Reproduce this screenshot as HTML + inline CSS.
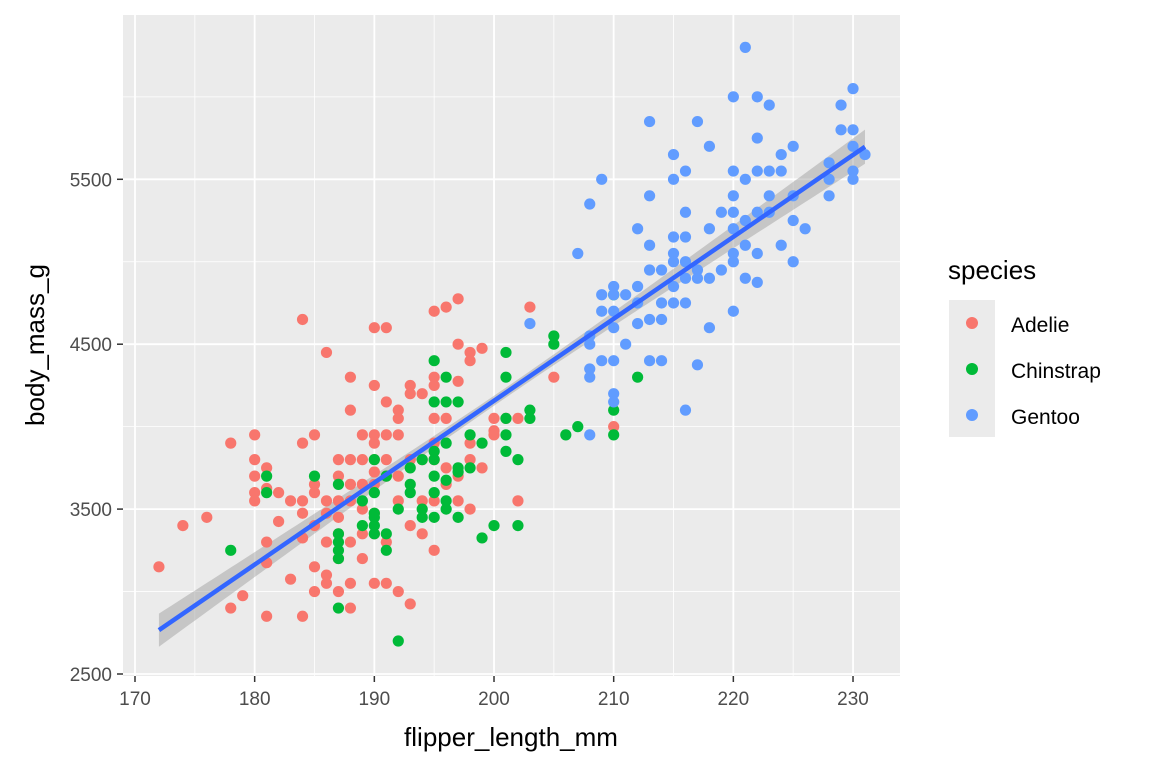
<!DOCTYPE html>
<html><head><meta charset="utf-8"><style>
html,body{margin:0;padding:0;background:#fff;}
svg{display:block;font-family:"Liberation Sans",Arial,sans-serif;}
</style></head><body>
<svg id="chart" width="1152" height="768" viewBox="0 0 1152 768" xmlns="http://www.w3.org/2000/svg">
<rect x="0" y="0" width="1152" height="768" fill="#fff"/>
<rect x="123" y="15" width="777" height="661" fill="#ebebeb"/>
<g id="grid"></g>
<g id="band"></g>
<g id="pts"></g>
<g id="fit"></g>
<g id="axes"></g>
<text x="511" y="746" font-size="26" text-anchor="middle" fill="#000">flipper_length_mm</text>
<text transform="translate(44,345) rotate(-90)" font-size="26" text-anchor="middle" fill="#000">body_mass_g</text>
<g>
<text x="948" y="279" font-size="26" fill="#000">species</text>
<rect x="949" y="300" width="46" height="137" fill="#ebebeb"/>
<circle cx="972" cy="323" r="6" fill="#F8766D"/>
<circle cx="972" cy="369" r="6" fill="#00BA38"/>
<circle cx="972" cy="415" r="6" fill="#619CFF"/>
<text x="1011" y="332" font-size="21" fill="#000">Adelie</text>
<text x="1011" y="378" font-size="21" fill="#000">Chinstrap</text>
<text x="1011" y="424" font-size="21" fill="#000">Gentoo</text>
</g>
</svg>
<script>
const xTicks=[170,180,190,200,210,220,230];
const yTicks=[2500,3500,4500,5500];
const xMinor=[175,185,195,205,215,225];
const yMinor=[3000,4000,5000,6000];
const adelie=[[172,3150],[174,3400],[176,3450],[178,3900],[178,2900],[179,2975],
[180,3950],[180,3800],[180,3700],[180,3600],[180,3550],
[181,3750],[181,3625],[181,3300],[181,3175],[181,2850],
[182,3600],[182,3425],[183,3550],[183,3075],
[184,4650],[184,3900],[184,3550],[184,3475],[184,3325],[184,2850],
[185,3950],[185,3650],[185,3600],[185,3400],[185,3150],[185,3000],
[186,4450],[186,3550],[186,3475],[186,3300],[186,3100],[186,3050],
[187,3800],[187,3700],[187,3550],[187,3450],[187,3350],[187,3200],[187,3000],
[188,4300],[188,4100],[188,3800],[188,3650],[188,3550],[188,3300],[188,3050],[188,2900],
[189,3950],[189,3800],[189,3650],[189,3500],[189,3350],[189,3200],
[190,4600],[190,4250],[190,3950],[190,3900],[190,3800],[190,3725],[190,3650],[190,3475],[190,3350],[190,3050],
[191,4600],[191,4150],[191,3950],[191,3800],[191,3700],[191,3300],[191,3050],
[192,4100],[192,4050],[192,3950],[192,3700],[192,3550],[192,3000],
[193,4250],[193,4200],[193,3800],[193,3400],[193,2925],
[194,4200],[194,3800],[194,3550],[194,3350],
[195,4700],[195,4300],[195,4250],[195,4050],[195,3900],[195,3800],[195,3550],[195,3250],
[196,4725],[196,4050],[196,3750],[196,3650],
[197,4775],[197,4500],[197,4275],[197,3700],[197,3550],
[198,4450],[198,4400],[198,3900],[198,3800],[198,3500],
[199,4475],[199,3750],[200,4050],[200,3975],[200,3950],[201,4050],
[202,4050],[202,3550],[203,4725],[205,4300],[210,4000]];
const chinstrap=[[178,3250],[181,3700],[181,3600],[185,3700],
[187,3650],[187,3350],[187,3300],[187,3250],[187,3200],[187,2900],
[189,3550],[189,3400],
[190,3800],[190,3600],[190,3475],[190,3450],[190,3400],[190,3350],
[191,3700],[191,3350],[191,3250],[192,3500],[192,2700],
[193,3750],[193,3650],[193,3600],[194,3800],[194,3500],[194,3450],
[195,4400],[195,4150],[195,3850],[195,3800],[195,3700],[195,3600],[195,3450],
[196,4300],[196,4150],[196,3900],[196,3675],[196,3550],[196,3500],
[197,4150],[197,3750],[197,3725],[197,3450],[198,3950],[198,3750],
[199,3900],[199,3325],[200,3400],
[201,4450],[201,4300],[201,4050],[201,3950],[201,3850],[202,3800],[202,3400],
[203,4100],[203,4050],[205,4550],[205,4500],[206,3950],[207,4000],
[210,4800],[210,4100],[210,3950],[212,4300]];
const gentoo=[[203,4625],[207,5050],
[208,5350],[208,4350],[208,4300],[208,4550],[208,4500],[208,3950],
[209,5500],[209,4800],[209,4700],[209,4400],
[210,4850],[210,4800],[210,4700],[210,4600],[210,4200],[210,4150],[210,4400],
[211,4800],[211,4500],[212,5200],[212,4850],[212,4750],[212,4625],
[213,5850],[213,5400],[213,5100],[213,4950],[213,4650],[213,4400],
[214,4950],[214,4750],[214,4650],[214,4400],
[215,5150],[215,5050],[215,5000],[215,4850],[215,4750],[215,5650],[215,5500],
[216,5550],[216,5300],[216,5150],[216,5000],[216,4900],[216,4750],[216,4100],
[217,5850],[217,4950],[217,4900],[217,4375],
[218,5700],[218,5200],[218,4900],[218,4600],[219,5300],[219,4950],
[220,6000],[220,5550],[220,5400],[220,5300],[220,5200],[220,5050],[220,5000],[220,4700],
[221,6300],[221,5500],[221,5250],[221,5100],[221,4900],
[222,6000],[222,5750],[222,5550],[222,5300],[222,5050],[222,4875],
[223,5950],[223,5550],[223,5400],[223,5300],[224,5650],[224,5550],[224,5100],
[225,5700],[225,5400],[225,5250],[225,5000],[226,5200],
[228,5600],[228,5500],[228,5400],[229,5950],[229,5800],
[230,6050],[230,5800],[230,5700],[230,5550],[230,5500],[231,5650]];
const fitCoef=[-5780.8,49.69];
const fitRange=[172,231];

const NS="http://www.w3.org/2000/svg";
const X=v=>135+(v-170)*11.967;
const Y=v=>674-(v-2500)*0.1649;
function mk(tag,parent,attrs){const e=document.createElementNS(NS,tag);for(const k in attrs)e.setAttribute(k,attrs[k]);document.getElementById(parent).appendChild(e);return e;}
xMinor.forEach(v=>{const e=mk('line','grid',{x1:X(v),x2:X(v),y1:15,y2:676,stroke:'#fff','stroke-width':0.8});

});
yMinor.forEach(v=>{const e=mk('line','grid',{x1:123,x2:900,y1:Y(v),y2:Y(v),stroke:'#fff','stroke-width':0.8});

});
xTicks.forEach(v=>{const e=mk('line','grid',{x1:X(v),x2:X(v),y1:15,y2:676,stroke:'#fff','stroke-width':1.8});


const t=mk('line','axes',{x1:X(v),x2:X(v),y1:676,y2:682,stroke:'#333','stroke-width':1.5});


const l=mk('text','axes',{x:X(v),y:705,'font-size':19,'text-anchor':'middle',fill:'#4d4d4d'});l.textContent=v;

});
yTicks.forEach(v=>{const e=mk('line','grid',{x1:123,x2:900,y1:Y(v),y2:Y(v),stroke:'#fff','stroke-width':1.8});


const t=mk('line','axes',{x1:117,x2:123,y1:Y(v),y2:Y(v),stroke:'#333','stroke-width':1.5});


const l=mk('text','axes',{x:112,y:Y(v)+7,'font-size':19,'text-anchor':'end',fill:'#4d4d4d'});l.textContent=v;

});
// band
const f=x=>fitCoef[0]+fitCoef[1]*x;
const hw=x=>Math.sqrt(30*30+Math.pow(3.3*(x-201),2));
let up=[],lo=[];
for(let x=fitRange[0];x<=fitRange[1]+0.001;x+=0.5){up.push(X(x)+','+Y(f(x)+hw(x)));lo.unshift(X(x)+','+Y(f(x)-hw(x)));}
const b=mk('polygon','band',{points:up.concat(lo).join(' '),fill:'#999','fill-opacity':0.45});


function draw(arr,col,name){arr.forEach(p=>{const c=mk('circle','pts',{cx:X(p[0]),cy:Y(p[1]),r:5.6,fill:col});

});}
draw(adelie,'#F8766D','point-adelie');
draw(chinstrap,'#00BA38','point-chinstrap');
draw(gentoo,'#619CFF','point-gentoo');
const ln=mk('line','fit',{x1:X(fitRange[0]),y1:Y(f(fitRange[0])),x2:X(fitRange[1]),y2:Y(f(fitRange[1])),stroke:'#3366FF','stroke-width':4.5});


</script>
</body></html>
